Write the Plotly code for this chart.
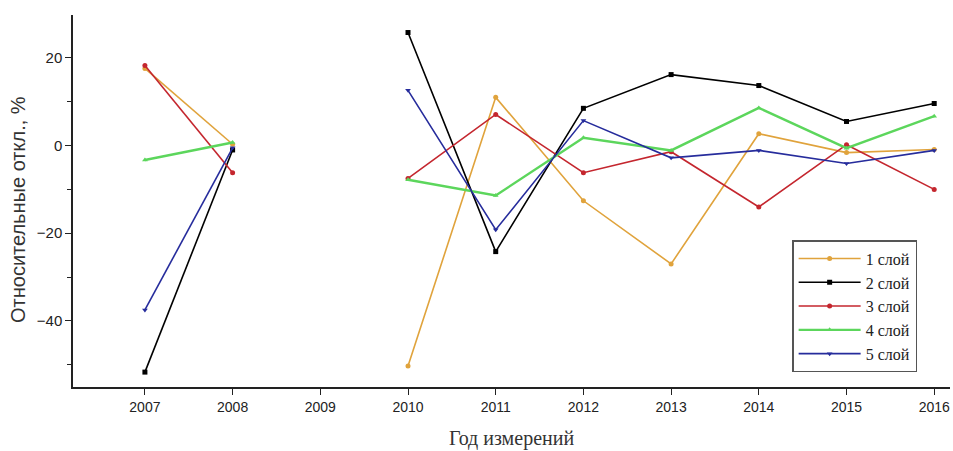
import plotly.graph_objects as go

years = [2007, 2008, 2009, 2010, 2011, 2012, 2013, 2014, 2015, 2016]
layer1 = [17.6, 0.3, None, -50.3, 11.0, -12.6, -27.0, 2.7, -1.6, -0.9]
layer2 = [-51.7, -1.0, None, 25.8, -24.2, 8.5, 16.2, 13.7, 5.5, 9.6]
layer3 = [18.3, -6.2, None, -7.5, 7.1, -6.2, -1.4, -14.0, 0.2, -10.0]
layer4 = [-3.3, 0.7, None, -7.8, -11.4, 1.8, -1.1, 8.6, -0.6, 6.7]
layer5 = [-37.5, -0.5, None, 12.6, -19.2, 5.7, -2.8, -1.1, -4.1, -1.1]
names = ["1 слой", "2 слой", "3 слой", "4 слой", "5 слой"]
series = [layer1, layer2, layer3, layer4, layer5]
colors = ["#E0A33C", "#000000", "#C4262E", "#5CD65C", "#262C9C"]
symbols = ["circle", "square", "circle", "triangle-up", "triangle-down"]
widths = [1.6, 1.6, 1.6, 2.4, 1.6]

fig = go.Figure()
for n, s, c, m, w in zip(names, series, colors, symbols, widths):
    fig.add_trace(go.Scatter(
        x=years, y=s, name=n, mode="lines+markers",
        line=dict(color=c, width=w),
        marker=dict(symbol=m, size=5, color=c),
        connectgaps=False,
    ))

fig.update_layout(
    width=953, height=451,
    margin=dict(l=73, r=3, t=15, b=64),
    plot_bgcolor="white", paper_bgcolor="white",
    showlegend=True,
    legend=dict(
        x=0.82, y=0.395, xanchor="left", yanchor="top",
        bordercolor="#555555", borderwidth=1.5,
        bgcolor="white",
        font=dict(family="Liberation Serif, Times New Roman, serif", size=16, color="#222"),
        itemwidth=62,
    ),
    font=dict(family="Liberation Sans, Arial, sans-serif", size=14, color="#222"),
    annotations=[dict(
        text="Относительные откл., %", textangle=-90,
        xref="paper", yref="paper", x=0, y=0.5, xanchor="center", yanchor="middle",
        xshift=-55, yshift=-9, showarrow=False,
        font=dict(family="Liberation Sans, Arial, sans-serif", size=20, color="#333"),
    )],
)
fig.update_xaxes(
    range=[2006.18, 2016.18],
    tickmode="array", tickvals=years, ticktext=[str(y) for y in years],
    showline=True, linecolor="#222", linewidth=1.5,
    ticks="outside", ticklen=6, tickcolor="#222",
    tickfont=dict(size=14),
    showgrid=False, zeroline=False, automargin=False,
    title=dict(text="Год измерений", font=dict(family="Liberation Serif, Times New Roman, serif", size=20, color="#333"), standoff=17),
)
fig.update_yaxes(
    range=[-55.1, 29.8],
    tickvals=[-40, -20, 0, 20],
    showline=True, linecolor="#222", linewidth=1.5,
    ticks="outside", ticklen=6, tickcolor="#222",
    tickfont=dict(size=15),
    minor=dict(tickvals=[-50, -30, -10, 10], ticks="outside", ticklen=4, tickcolor="#222"),
    showgrid=False, zeroline=False, automargin=False,
)

fig.write_html(
    "out.html",
    config={"displayModeBar": False},
    post_script="document.body.style.margin='0';document.body.style.overflow='hidden';",
)
